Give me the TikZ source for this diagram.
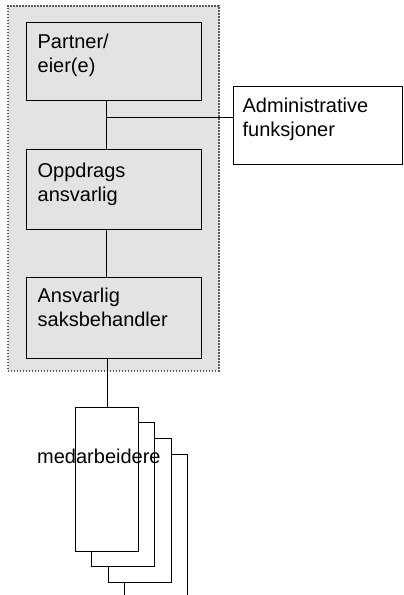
\documentclass[tikz,border=0pt]{standalone}
\usepackage{fontspec}
\setmainfont{Liberation Sans}
\begin{document}
\begin{tikzpicture}[x=1pt,y=-1pt,
  every node/.style={font=\fontsize{20}{24}\selectfont},
  orgbox/.style={draw=black, line width=1.3pt, anchor=north west,
    align=left, inner xsep=11pt, inner ysep=0pt},
  stackbox/.style={draw=black, line width=1.3pt, fill=white, anchor=north west,
    minimum width=63pt, minimum height=144pt, inner sep=0pt},
  link/.style={draw=black, line width=1.3pt},
  group/.style={draw=black!65, fill=black!11, line width=1.6pt,
    dash pattern=on 1.6pt off 1.4pt, anchor=north west, inner sep=0pt}]
\useasboundingbox (0,0) rectangle (404,595);
\clip (0,0) rectangle (404,595);
\fill[white] (0,0) rectangle (404,595);

% shaded group holding the three core roles
\node[group, minimum width=211pt, minimum height=365pt] (grp) at (7,5) {};

% role boxes
\node[orgbox, fill=black!11, text width=153pt, text height=26pt, text depth=52pt] (p) at (26,22) {Partner/\\eier(e)};
\node[orgbox, fill=black!11, text width=153pt, text height=28pt, text depth=52pt] (o) at (26,149) {Oppdrags\\ansvarlig};
\node[orgbox, fill=black!11, text width=153pt, text height=25pt, text depth=56pt] (s) at (26,277) {Ansvarlig\\saksbehandler};
\node[orgbox, fill=white, inner xsep=9pt, text width=151pt, text height=26pt, text depth=52pt] (a) at (233,86) {Administrative\\funksjoner};

% stacked staff sheets, back to front
\node[stackbox] (m4) at (124,454) {};
\node[stackbox] (m3) at (108,438) {};
\node[stackbox] (m2) at (91,422) {};
\node[stackbox] (m1) at (75,407) {};
\node[anchor=base west, inner sep=0pt] (mtxt) at (37,463) {medarbeidere};

% reporting lines
\coordinate (j) at (106.5,117.5);
\draw[link] (p.south -| j) -- (o.north -| j);
\draw[link] (j) -- (j -| a.west);
\draw[link] (o.south -| j) -- (s.north -| j);
\draw[link] (s.south -| m1.north) -- (m1.north);
\end{tikzpicture}
\end{document}
